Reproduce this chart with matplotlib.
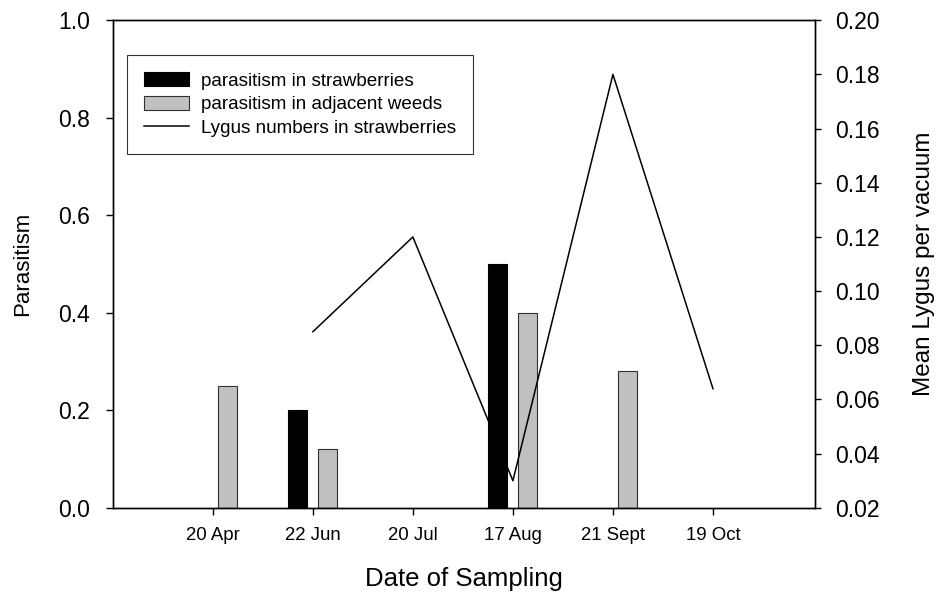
import numpy as np
import matplotlib
matplotlib.use('Agg')
import matplotlib.pyplot as plt

plt.rcParams['font.family'] = ['Liberation Sans', 'DejaVu Sans']

# sampling dates and measurements
dates = ['20 Apr', '22 Jun', '20 Jul', '17 Aug', '21 Sept', '19 Oct']
straw_parasitism = [np.nan, 0.20, np.nan, 0.50, np.nan, np.nan]
weed_parasitism = [0.25, 0.12, np.nan, 0.40, 0.28, np.nan]
lygus_dates = ['22 Jun', '20 Jul', '17 Aug', '21 Sept', '19 Oct']
lygus_per_vacuum = [0.085, 0.12, 0.03, 0.18, 0.064]

x = np.arange(len(dates))
lygus_x = [dates.index(d) for d in lygus_dates]
width = 0.19

fig = plt.figure(figsize=(9.4, 5.94), dpi=100)
ax = fig.add_axes([0.120, 0.145, 0.747, 0.821])
ax2 = ax.twinx()

# bars on the left axis
b1 = ax.bar(x - 0.15, straw_parasitism, width, color='black', edgecolor='black',
            linewidth=0.8, zorder=2)
b2 = ax.bar(x + 0.15, weed_parasitism, width, color='#c0c0c0', edgecolor='#303030',
            linewidth=0.8, zorder=2)

# Lygus line on the right axis, kept above the bars
ax.set_zorder(1)
ax.patch.set_visible(False)
ax2.set_zorder(2)
l1, = ax2.plot(lygus_x, lygus_per_vacuum, color='black', linewidth=1.1)

ax.set_xlim(-1, 6.02)
ax.set_ylim(0, 1.0)
ax2.set_ylim(0.02, 0.20)
ax.set_xticks(x)
ax.set_xticklabels(dates, fontsize=13.4)
ax.set_yticks(np.arange(0, 1.01, 0.2))
ax.set_yticklabels(['%.1f' % v for v in np.arange(0, 1.01, 0.2)], fontsize=16.5)
ax2.set_yticks(np.arange(0.02, 0.201, 0.02))
ax2.set_yticklabels(['%.2f' % v for v in np.arange(0.02, 0.201, 0.02)], fontsize=16.5)

for a in (ax, ax2):
    for s in a.spines.values():
        s.set_linewidth(1)
ax.tick_params(axis='y', direction='out', length=5, width=1, pad=11.5)
ax.tick_params(axis='x', direction='out', length=5, width=1, pad=9)
ax2.tick_params(axis='y', direction='out', length=4.5, width=1, pad=10)

ax.set_xlabel('Date of Sampling', fontsize=18.5, labelpad=16)
ax.set_ylabel('Parasitism', fontsize=16)
ax.yaxis.set_label_coords(-0.114, 0.5)
ax2.set_ylabel('Mean Lygus per vacuum', fontsize=17.5)
ax2.yaxis.set_label_coords(1.140, 0.5)

leg = ax2.legend([b1, b2, l1],
                 ['parasitism in strawberries', 'parasitism in adjacent weeds',
                  'Lygus numbers in strawberries'],
                 loc='upper left', bbox_to_anchor=(0.02, 0.928), borderaxespad=0,
                 fontsize=13.6, frameon=True, fancybox=False, edgecolor='black',
                 handlelength=2.4, handleheight=0.75, handletextpad=0.6,
                 labelspacing=0.32, borderpad=0.9)
leg.get_frame().set_linewidth(0.8)

fig.savefig('out.png', dpi=100)
